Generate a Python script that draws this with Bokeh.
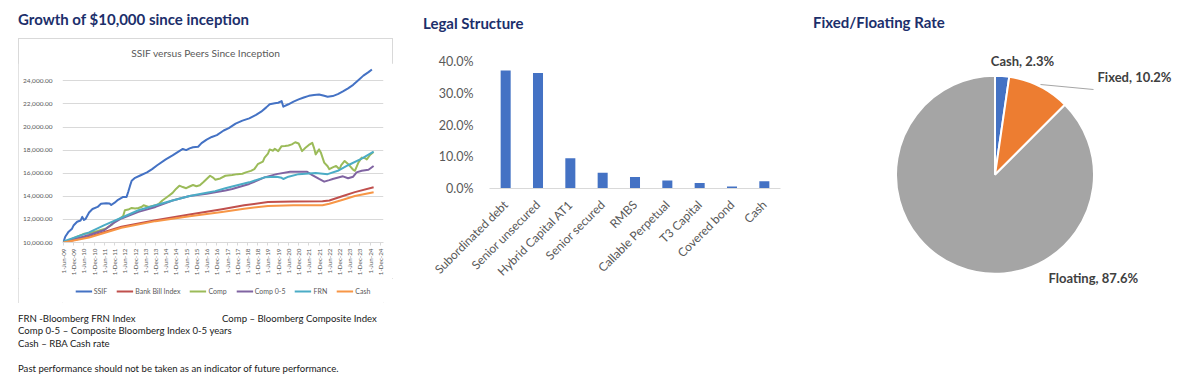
from math import pi
import numpy as np
from bokeh.plotting import figure
from bokeh.layouts import row, column
from bokeh.models import (Div, Range1d, FixedTicker, NumeralTickFormatter, Legend,
                          LegendItem, FactorRange, ColumnDataSource, Spacer)
from bokeh.embed import file_html
from bokeh.resources import INLINE
from bokeh.core.properties import value

# ---------------- Growth of $10,000 (months since 1-Jun-09) ----------------
ssif_m = [0,1,3,5,6,8,10,11,12,13,15,17,20,22,25,27,28,30,32,35,37,38,39,40,42,45,49,52,55,60,
          64,67,70,72,74,76,79,81,84,87,90,94,97,101,105,109,113,116,119,121,124,126,128,129,132,
          135,138,141,144,147,150,153,155,158,161,164,167,170,173,176,179,181]
ssif_v = [10050,10500,10940,11200,11500,11800,11900,12220,11950,12050,12600,12900,13080,13360,13400,
          13380,13250,13450,13700,13950,13950,14400,14900,15350,15600,15800,16070,16350,16690,17200,
          17550,17830,18100,18000,18150,18250,18290,18600,18910,19140,19300,19700,19900,20300,20550,
          20750,21050,21330,21700,21970,22050,22100,22250,21760,21970,22200,22390,22560,22700,22780,
          22820,22700,22620,22680,22850,23080,23350,23650,24050,24450,24750,24980]

bb_m = [0,15,34,54,74,93,106,120,135,152,156,164,171,182]
bb_v = [10000,10510,11370,11930,12420,12870,13220,13500,13560,13580,13640,14020,14360,14780]

comp_m = [0,4,8,12,15,20,25,28,30,33,35,36,38,40,42,44,46,47,50,54,56,58,60,62,64,66,68,70,72,74,
          76,78,80,82,84,86,88,89,92,95,99,102,105,107,110,112,114,117,118,120,121,123,124,126,128,
          130,132,134,136,138,140,142,144,146,147,148,150,151,153,155,156,158,160,162,163,165,167,
          168,170,171,173,175,177,178,180,182]
comp_v = [10000,10250,10500,10750,10800,11000,11220,11500,11800,12080,12300,12790,12850,12990,12950,
          12990,13100,13220,13080,13220,13350,13640,13850,14070,14300,14640,14920,14800,14700,14850,
          14980,14870,14950,15210,15500,15780,15600,15440,15550,15780,15840,15920,15950,16070,16200,
          16350,16780,17000,17350,17700,18060,17950,18120,17910,18340,18350,18400,18500,18680,18570,
          17910,18200,18450,18630,18200,17630,18060,17800,16920,16600,16350,16500,16630,16350,16700,
          17060,16800,16630,16300,16210,16900,17350,17300,17200,17600,17830]

c05_m = [0,15,24,29,34,44,54,64,74,84,89,95,99,109,118,125,133,143,146,150,153,156,158,164,167,170,
         172,175,179,182]
c05_v = [10000,10650,11080,11650,12080,12650,13080,13640,14020,14210,14360,14500,14640,15070,15640,
         15920,16120,16120,15840,15500,15270,15400,15500,15730,15560,15700,16070,16210,16300,16630]

frn_m = [0,15,24,34,44,54,64,74,84,89,95,99,109,118,125,128,129,132,138,148,155,161,167,175,182]
frn_v = [10100,10880,11500,12140,12790,13220,13640,14020,14300,14450,14700,14850,15210,15640,15700,
         15600,15500,15700,15920,16010,15920,16210,16690,17260,17860]

cash_m = [0,15,34,54,74,93,106,120,135,152,156,164,171,182]
cash_v = [10000,10430,11280,11850,12270,12650,12930,13160,13220,13220,13360,13700,14020,14360]

series_names = ["SSIF", "Bank Bill Index", "Comp", "Comp 0-5", "FRN", "Cash"]
series_colors = ["#4472C4", "#C0504D", "#9BBB59", "#8064A2", "#4BACC6", "#F79646"]

tick_months = list(range(0, 187, 6))
tick_labels = ["1-Jun-09", "1-Dec-09", "1-Jun-10", "1-Dec-10", "1-Jun-11", "1-Dec-11", "1-Jun-12",
               "1-Dec-12", "1-Jun-13", "1-Dec-13", "1-Jun-14", "1-Dec-14", "1-Jun-15", "1-Dec-15",
               "1-Jun-16", "1-Dec-16", "1-Jun-17", "1-Dec-17", "1-Jun-18", "1-Dec-18", "1-Jun-19",
               "1-Dec-19", "1-Jun-20", "1-Dec-20", "1-Jun-21", "1-Dec-21", "1-Jun-22", "1-Dec-22",
               "1-Jun-23", "1-Dec-23", "1-Jun-24", "1-Dec-24"]
y_ticks = [10000, 12000, 14000, 16000, 18000, 20000, 22000, 24000]

# ---------------- Legal structure ----------------
legal_cats = ["Subordinated debt", "Senior unsecured", "Hybrid Capital AT1", "Senior secured", "RMBS",
              "Callable Perpetual", "T3 Capital", "Covered bond", "Cash"]
legal_vals = [0.372, 0.364, 0.095, 0.050, 0.036, 0.025, 0.017, 0.006, 0.023]
legal_ticks = [0.0, 0.1, 0.2, 0.3, 0.4]

# ---------------- Fixed / floating ----------------
rate_labels = ["Cash", "Fixed", "Floating"]
rate_vals = [2.3, 10.2, 87.6]
rate_colors = ["#4472C4", "#ED7D31", "#A5A5A5"]

NAVY = "#1c2f6b"
GREY = "#595959"
FONT = "Lato"

def title_div(text, w, pad_top, pad_left):
    return Div(text=f'<div style="font-family:Lato;font-weight:bold;font-size:15px;color:{NAVY};'
                    f'white-space:nowrap;padding:{pad_top}px 0 0 {pad_left}px;">{text}</div>',
               width=w, height=38, margin=0)

# ---------------- line chart ----------------
inner_title = Div(text=('<div style="font-family:Lato;font-size:10.2px;line-height:13px;color:#595959;'
                        'text-align:center;padding-top:9px;width:375px;">'
                        'SSIF versus Peers Since Inception</div>'), width=375, height=25, margin=0)

p1 = figure(width=375, height=215, x_range=Range1d(-0.6, 187.8), y_range=Range1d(10000, 25500),
            output_backend="svg", toolbar_location=None,
            min_border_left=44, min_border_right=10, min_border_top=0, min_border_bottom=34,
            margin=0)
p1.outline_line_color = None
p1.xgrid.grid_line_color = None
p1.ygrid.grid_line_color = "#d9d9d9"

p1.yaxis.ticker = FixedTicker(ticks=y_ticks)
p1.yaxis.formatter = NumeralTickFormatter(format="0,0.00")
p1.yaxis.axis_line_color = None
p1.yaxis.major_tick_line_color = None
p1.yaxis.minor_tick_line_color = None
p1.yaxis.major_label_text_font = FONT
p1.yaxis.major_label_text_font_size = "6.5px"
p1.yaxis.major_label_text_color = GREY
p1.yaxis.major_label_standoff = 4

p1.xaxis.ticker = FixedTicker(ticks=tick_months)
p1.xaxis.major_label_overrides = {m: l for m, l in zip(tick_months, tick_labels)}
p1.xaxis.major_label_orientation = pi / 2
p1.xaxis.major_label_text_font = FONT
p1.xaxis.major_label_text_font_size = "6.3px"
p1.xaxis.major_label_text_color = GREY
p1.xaxis.axis_line_color = "#d9d9d9"
p1.xaxis.major_tick_line_color = "#d9d9d9"
p1.xaxis.major_tick_out = 3
p1.xaxis.major_tick_in = 0
p1.xaxis.minor_tick_line_color = None
p1.xaxis.major_label_standoff = 3

data_m = [ssif_m, bb_m, comp_m, c05_m, frn_m, cash_m]
data_v = [ssif_v, bb_v, comp_v, c05_v, frn_v, cash_v]
for name, col, mm, vv in zip(series_names, series_colors, data_m, data_v):
    p1.line(mm, vv, line_color=col, line_width=2, line_join="round")

# legend strip (same series styles; proxy lines lie outside the strip's visible range)
pl = figure(width=375, height=25, x_range=Range1d(0, 375), y_range=Range1d(0, 25),
            x_axis_type=None, y_axis_type=None, output_backend="svg", toolbar_location=None,
            min_border=0, margin=0)
pl.outline_line_color = None
pl.grid.grid_line_color = None
items = []
for name, col in zip(series_names, series_colors):
    r = pl.line([-50, -40], [-50, -50], line_color=col, line_width=2)
    items.append(LegendItem(label=name, renderers=[r]))
leg = Legend(items=items, orientation="horizontal", location="center", glyph_width=17,
             glyph_height=8, label_text_font=FONT, label_text_font_size="7px", label_text_color=GREY,
             label_standoff=2, label_height=8, label_width=0, spacing=9, padding=0, margin=0,
             border_line_color=None, background_fill_alpha=0)
pl.add_layout(leg)

box = column(inner_title, p1, pl, spacing=0, margin=0, width=375, height=265,
             styles={"outline": "1px solid #d9d9d9", "outline-offset": "-1px"})

notes = Div(text=(
    '<div style="font-family:Lato;font-size:9.6px;line-height:12.4px;color:#1a1a1a;'
    'padding:10px 0 0 18px;white-space:nowrap;">'
    '<span style="display:inline-block;width:204px;">FRN -Bloomberg FRN Index</span>'
    'Comp \u2013 Bloomberg Composite Index<br>'
    'Comp 0-5 \u2013 Composite Bloomberg Index 0-5 years<br>'
    'Cash \u2013 RBA Cash rate<br><br>'
    'Past performance should not be taken as an indicator of future performance.</div>'),
    width=400, height=87, margin=0)

left = column(title_div("Growth of $10,000 since inception", 400, 9, 18),
              row(Spacer(width=18, height=265, margin=0), box, Spacer(width=7, height=265, margin=0),
                  spacing=0, margin=0),
              notes, spacing=0, margin=0)

# ---------------- bar chart ----------------
p2 = figure(width=400, height=344, x_range=FactorRange(factors=legal_cats, range_padding=0),
            y_range=Range1d(0, 0.4), output_backend="svg", toolbar_location=None, margin=0,
            min_border_left=89, min_border_right=20, min_border_top=23, min_border_bottom=194)
p2.vbar(x=legal_cats, top=legal_vals, width=0.31, fill_color="#4472C4", line_color=None)
p2.outline_line_color = None
p2.grid.grid_line_color = None
p2.yaxis.ticker = FixedTicker(ticks=legal_ticks)
p2.yaxis.formatter = NumeralTickFormatter(format="0.0%")
p2.yaxis.axis_line_color = None
p2.yaxis.major_tick_line_color = None
p2.yaxis.minor_tick_line_color = None
p2.yaxis.major_label_text_font = FONT
p2.yaxis.major_label_text_font_size = "12.5px"
p2.yaxis.major_label_text_color = GREY
p2.yaxis.major_label_standoff = 10
p2.xaxis.axis_line_color = "#d9d9d9"
p2.xaxis.major_tick_line_color = None
p2.xaxis.major_label_orientation = pi / 4
p2.xaxis.major_label_text_font = FONT
p2.xaxis.major_label_text_font_size = "12px"
p2.xaxis.major_label_text_color = GREY
p2.xaxis.major_label_standoff = 8

mid = column(title_div("Legal Structure", 400, 13, 23), p2, spacing=0, margin=0)

# ---------------- pie chart ----------------
p3 = figure(width=392, height=344, x_range=Range1d(0, 392), y_range=Range1d(0, 344),
            x_axis_type=None, y_axis_type=None, output_backend="svg", toolbar_location=None,
            min_border=0, margin=0)
p3.outline_line_color = None
p3.grid.grid_line_color = None
fr = np.array(rate_vals) / sum(rate_vals)
cum = np.concatenate([[0], np.cumsum(fr)])
src = ColumnDataSource(dict(start=pi / 2 - 2 * pi * cum[:-1], end=pi / 2 - 2 * pi * cum[1:],
                            color=rate_colors))
p3.wedge(x=194.5, y=207.7, radius=99, start_angle="start", end_angle="end", direction="clock",
         fill_color="color", line_color="white", line_width=2, source=src)
p3.line([240, 293], [298, 293], line_color="#a6a6a6", line_width=1)
lab_txt = [f"{l}, {v}%" for l, v in zip(rate_labels, rate_vals)]
lab_x = [222, 297, 248]
lab_y = [322, 306, 105]
lab_align = ["center", "left", "left"]
for t, x, y, a in zip(lab_txt, lab_x, lab_y, lab_align):
    p3.text(x=[x], y=[y], text=[t], text_align=a, text_baseline="middle", text_font=value(FONT),
            text_font_style="bold", text_font_size="13px", text_color="#404040")

right = column(title_div("Fixed/Floating Rate", 392, 12, 13), p3, spacing=0, margin=0)

page = row(left, mid, right, spacing=0, margin=0)
open("out.html", "w").write(file_html(page, INLINE))
